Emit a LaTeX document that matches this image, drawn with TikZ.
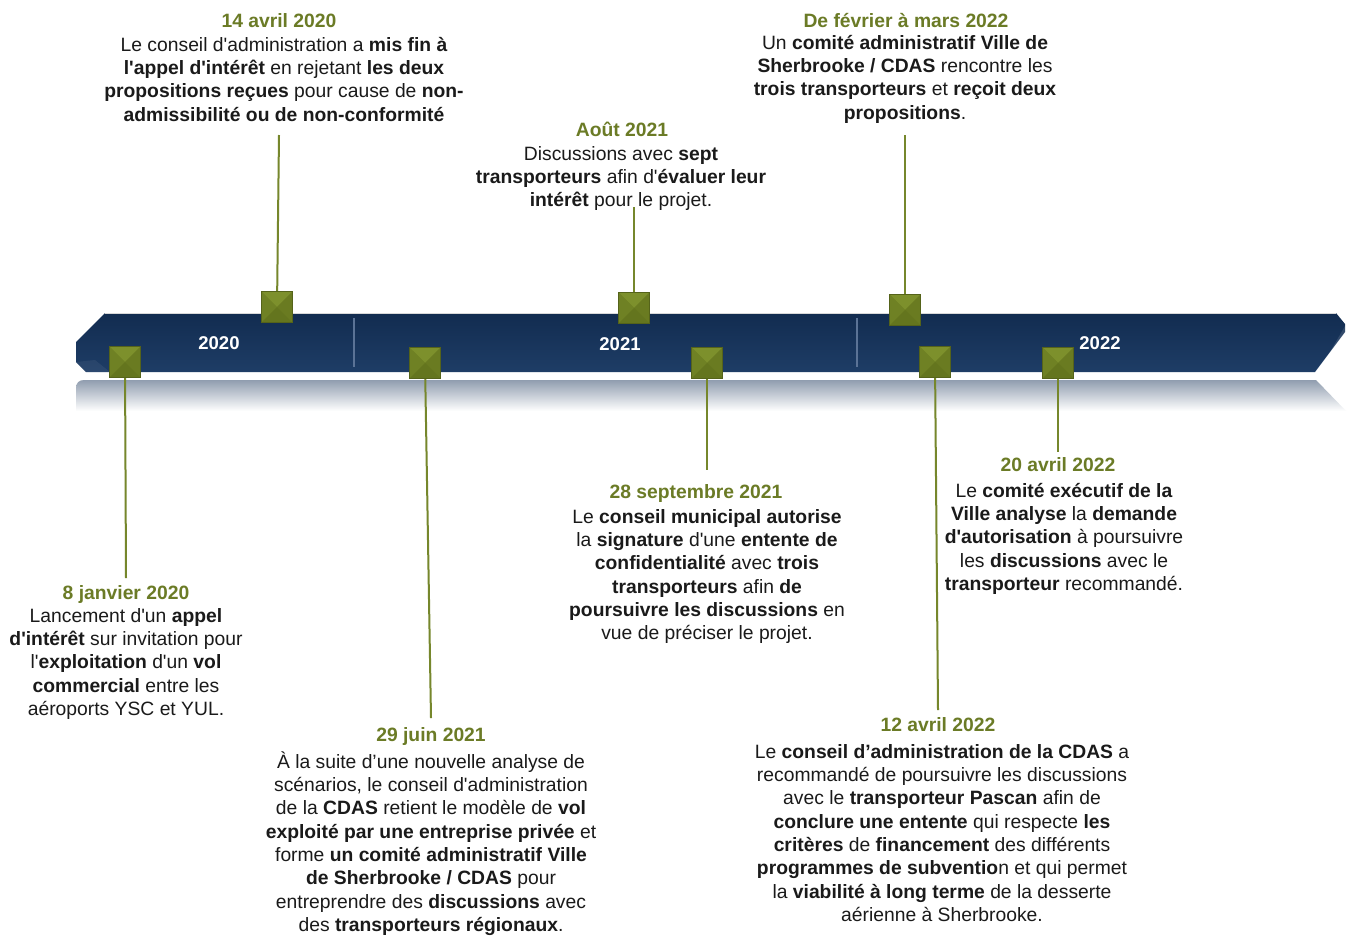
\documentclass[tikz,border=0pt]{standalone}
\usepackage{fontspec}
\setmainfont{Liberation Sans}[Ligatures=TeXOff]
\usetikzlibrary{calc}
\definecolor{olive}{HTML}{6B7B26}
\definecolor{oline}{HTML}{76872C}
\definecolor{sqbase}{HTML}{6C7D22}
\definecolor{sqtop}{HTML}{7D902C}
\definecolor{sqleft}{HTML}{6F8124}
\definecolor{sqright}{HTML}{6A7B21}
\definecolor{sqbot}{HTML}{64751E}
\definecolor{sqedge}{HTML}{55631A}
\definecolor{bartop}{HTML}{122C50}
\definecolor{barbot}{HTML}{1E3D66}
\definecolor{refl}{HTML}{909DAF}
\definecolor{sepc}{HTML}{5B7396}
\definecolor{bodyc}{HTML}{1A1A1A}
\tikzset{
  sq/.style={rectangle, minimum size=31bp, inner sep=0pt, draw=sqedge, line width=0.6bp, fill=sqbase,
    path picture={
      \fill[sqtop] (path picture bounding box.north west) -- (path picture bounding box.north east) -- (path picture bounding box.center) -- cycle;
      \fill[sqleft] (path picture bounding box.north west) -- (path picture bounding box.south west) -- (path picture bounding box.center) -- cycle;
      \fill[sqright] (path picture bounding box.north east) -- (path picture bounding box.south east) -- (path picture bounding box.center) -- cycle;
      \fill[sqbot] (path picture bounding box.south west) -- (path picture bounding box.south east) -- (path picture bounding box.center) -- cycle;
      \fill[white, opacity=0.15] (path picture bounding box.north west) rectangle ($(path picture bounding box.north east)+(0,4bp)$);
    }},
  conn/.style={draw=oline, line width=2bp},
  datetitle/.style={anchor=base, inner sep=0pt, text=olive, font={\fontsize{19.3bp}{23.3bp}\selectfont\bfseries}},
  bodytext/.style={anchor=north, inner sep=0pt, align=center, text=bodyc, font={\fontsize{19.3bp}{23.3bp}\selectfont}},
  yearlabel/.style={inner sep=0pt, text=white, font={\fontsize{18.5bp}{20bp}\selectfont\bfseries}},
  sepline/.style={draw=sepc, line width=1.5bp}
}
\newcommand{\fl}{\rule{0pt}{17bp}}
\begin{document}
\begin{tikzpicture}[x=1bp,y=-1bp]
\useasboundingbox (0,0) rectangle (1351,935);
\fill[white] (0,0) rectangle (1351,935);

% reflection
\shade[top color=refl, bottom color=white] (84,380) -- (1316,380) -- (1346,411) -- (76,411) -- (76,388) .. controls (76,383) and (79,380) .. (84,380) -- cycle;

% bar
\shade[top color=bartop, bottom color=barbot] (105,313) -- (1336,313) -- (1345,324) -- (1345,332) -- (1315,372) -- (86,372) -- (76,362) -- (76,342) -- cycle;
\draw[white!70!gray, line width=0.6bp] (105,313) -- (1336,313);
\fill[white, opacity=0.12] (1345,332) -- (1315,372) -- (1330,352) -- (1345,326) -- cycle;
\fill[white, opacity=0.06] (76,362) -- (86,372) -- (110,372) -- (95,360) -- cycle;

% separators
\draw[sepline] (354,318) -- (354,367);
\draw[sepline] (857,318) -- (857,367);

% year labels
\node[yearlabel] (y2020) at (219,343) {2020};
\node[yearlabel] (y2021) at (620,344) {2021};
\node[yearlabel] (y2022) at (1100,343) {2022};

% end points of connectors
\coordinate (e1) at (126,578);
\coordinate (e2) at (279,135);
\coordinate (e3) at (431,718);
\coordinate (e4) at (634,207);
\coordinate (e5) at (707,470);
\coordinate (e6) at (905,135);
\coordinate (e7) at (938,710);
\coordinate (e8) at (1058,452);

% connectors (drawn before squares)
\draw[conn] (125,362) -- (e1);
\draw[conn] (277,307) -- (e2);
\draw[conn] (425,363) -- (e3);
\draw[conn] (634,308) -- (e4);
\draw[conn] (707,363) -- (e5);
\draw[conn] (905,310) -- (e6);
\draw[conn] (935,362) -- (e7);
\draw[conn] (1058,363) -- (e8);

% squares
\node[sq] (s1) at (125,362) {};
\node[sq] (s2) at (277,307) {};
\node[sq] (s3) at (425,363) {};
\node[sq] (s4) at (634,308) {};
\node[sq] (s5) at (707,363) {};
\node[sq] (s6) at (905,310) {};
\node[sq] (s7) at (935,362) {};
\node[sq] (s8) at (1058,363) {};

% titles
\node[datetitle] (t1) at (126,599) {8 janvier 2020};
\node[datetitle] (t2) at (279,27) {14 avril 2020};
\node[datetitle] (t3) at (431,741) {29 juin 2021};
\node[datetitle] (t4) at (622,136) {Août 2021};
\node[datetitle] (t5) at (696,498) {28 septembre 2021};
\node[datetitle] (t6) at (906,27) {De février à mars 2022};
\node[datetitle] (t7) at (938,731) {12 avril 2022};
\node[datetitle] (t8) at (1058,471) {20 avril 2022};

% bodies
\node[bodytext] (b1) at (126,605) {\fl Lancement d'un \textbf{appel}\\
\textbf{d'intérêt} sur invitation pour\\
l'\textbf{exploitation} d'un \textbf{vol}\\
\textbf{commercial} entre les\\
aéroports YSC et YUL.};

\node[bodytext] (b2) at (284,34) {\fl Le conseil d'administration a \textbf{mis fin à}\\
\textbf{l'appel d'intérêt} en rejetant \textbf{les deux}\\
\textbf{propositions reçues} pour cause de \textbf{non-}\\
\textbf{admissibilité ou de non-conformité}};

\node[bodytext] (b3) at (431,751) {\fl À la suite d’une nouvelle analyse de\\
scénarios, le conseil d'administration\\
de la \textbf{CDAS} retient le modèle de \textbf{vol}\\
\textbf{exploité par une entreprise privée} et\\
forme \textbf{un comité administratif Ville}\\
\textbf{de Sherbrooke / CDAS} pour\\
entreprendre des \textbf{discussions} avec\\
des \textbf{transporteurs régionaux}.};

\node[bodytext] (b4) at (621,143) {\fl Discussions avec \textbf{sept}\\
\textbf{transporteurs} afin d'\textbf{évaluer leur}\\
\textbf{intérêt} pour le projet.};

\node[bodytext] (b5) at (707,506) {\fl Le \textbf{conseil municipal autorise}\\
la \textbf{signature} d'une \textbf{entente de}\\
\textbf{confidentialité} avec \textbf{trois}\\
\textbf{transporteurs} afin \textbf{de}\\
\textbf{poursuivre les discussions} en\\
vue de préciser le projet.};

\node[bodytext] (b6) at (905,32) {\fl Un \textbf{comité administratif Ville de}\\
\textbf{Sherbrooke / CDAS} rencontre les\\
\textbf{trois transporteurs} et \textbf{reçoit deux}\\
\textbf{propositions}.};

\node[bodytext] (b7) at (942,741) {\fl Le \textbf{conseil d’administration de la CDAS} a\\
recommandé de poursuivre les discussions\\
avec le \textbf{transporteur Pascan} afin de\\
\textbf{conclure une entente} qui respecte \textbf{les}\\
\textbf{critères} de \textbf{financement} des différents\\
\textbf{programmes de subventio}n et qui permet\\
la \textbf{viabilité à long terme} de la desserte\\
aérienne à Sherbrooke.};

\node[bodytext] (b8) at (1064,480) {\fl Le \textbf{comité exécutif de la}\\
\textbf{Ville analyse} la \textbf{demande}\\
\textbf{d'autorisation} à poursuivre\\
les \textbf{discussions} avec le\\
\textbf{transporteur} recommandé.};
\end{tikzpicture}
\end{document}
